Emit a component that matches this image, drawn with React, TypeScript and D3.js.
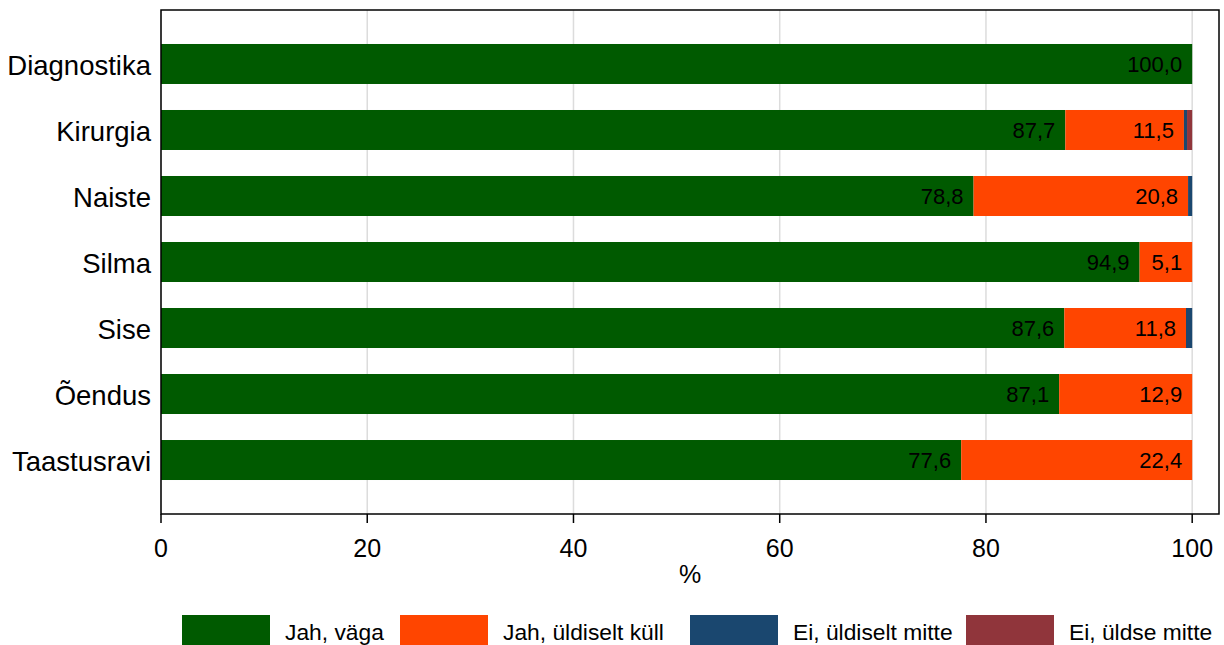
import React from "react";
import * as d3 from "d3";

const categories = ["Diagnostika", "Kirurgia", "Naiste", "Silma", "Sise", "Õendus", "Taastusravi"];
const seriesNames = ["Jah, väga", "Jah, üldiselt küll", "Ei, üldiselt mitte", "Ei, üldse mitte"];
const jahVaga = [100.0, 87.7, 78.8, 94.9, 87.6, 87.1, 77.6];
const jahUldiselt = [0, 11.5, 20.8, 5.1, 11.8, 12.9, 22.4];
const eiUldiselt = [0, 0.3, 0.4, 0, 0.6, 0, 0];
const eiUldse = [0, 0.5, 0, 0, 0, 0, 0];
const xTicks = [0, 20, 40, 60, 80, 100];
const colors = ["#005a00", "#ff4500", "#1a476f", "#90353b"];

const W = 1224;
const H = 645;
const left = 161;
const right = 1219;
const top = 10;
const bottom = 514;

export default function App() {
  const x = d3.scaleLinear().domain([0, 102.6]).range([left, right]);
  const y = d3.scaleBand<string>().domain(categories).range([top, bottom]).paddingInner(0.394).paddingOuter(0.515);
  const series = [jahVaga, jahUldiselt, eiUldiselt, eiUldse];
  const rows = categories.map((c, i) => {
    const r: any = { cat: c };
    seriesNames.forEach((s, k) => (r[s] = series[k][i]));
    return r;
  });
  const stacked = d3.stack<any>().keys(seriesNames)(rows);
  const font = "Arial, 'Liberation Sans', sans-serif";
  const legendSwatchX = [182, 400, 690, 966];

  return (
    <svg width={W} height={H} style={{ position: "absolute", left: 0, top: 0, background: "#fff" }} fontFamily={font}>
      <rect x={0} y={0} width={W} height={H} fill="#fff" />
      {xTicks.map((t) => (
        <line key={"g" + t} x1={x(t)} x2={x(t)} y1={top} y2={bottom} stroke="#dcdcdc" strokeWidth={1.5} />
      ))}
      {stacked.map((s, k) =>
        s.map((d, i) => {
          const w = x(d[1]) - x(d[0]);
          if (w <= 0) return null;
          return (
            <rect
              key={k + "-" + i}
              x={x(d[0])}
              y={y(categories[i])!}
              width={w}
              height={y.bandwidth()}
              fill={colors[k]}
            />
          );
        })
      )}
      {stacked.slice(0, 2).map((s, k) =>
        s.map((d, i) => {
          const v = d[1] - d[0];
          if (v < 3) return null;
          return (
            <text
              key={"t" + k + "-" + i}
              x={x(d[1]) - 10}
              y={y(categories[i])! + y.bandwidth() / 2}
              dy="0.37em"
              textAnchor="end"
              fontSize={22}
              fill="#000"
            >
              {v.toFixed(1).replace(".", ",")}
            </text>
          );
        })
      )}
      <rect x={left} y={top} width={right - left} height={bottom - top} fill="none" stroke="#000" strokeWidth={1.5} />
      {xTicks.map((t) => (
        <g key={"t" + t}>
          <line x1={x(t)} x2={x(t)} y1={bottom} y2={bottom + 9} stroke="#000" strokeWidth={1.5} />
          <text x={x(t)} y={557} textAnchor="middle" fontSize={25} fill="#000">
            {t}
          </text>
        </g>
      ))}
      <text x={690} y={583} textAnchor="middle" fontSize={25} fill="#000">
        %
      </text>
      {categories.map((c) => (
        <text key={c} x={151} y={y(c)! + y.bandwidth() / 2} dy="0.4em" textAnchor="end" fontSize={27.5} fill="#000">
          {c}
        </text>
      ))}
      {seriesNames.map((s, k) => (
        <g key={"l" + s}>
          <rect x={legendSwatchX[k]} y={615} width={88} height={30} fill={colors[k]} />
          <text x={legendSwatchX[k] + 103} y={640} fontSize={22.8} fill="#000">
            {s}
          </text>
        </g>
      ))}
    </svg>
  );
}
